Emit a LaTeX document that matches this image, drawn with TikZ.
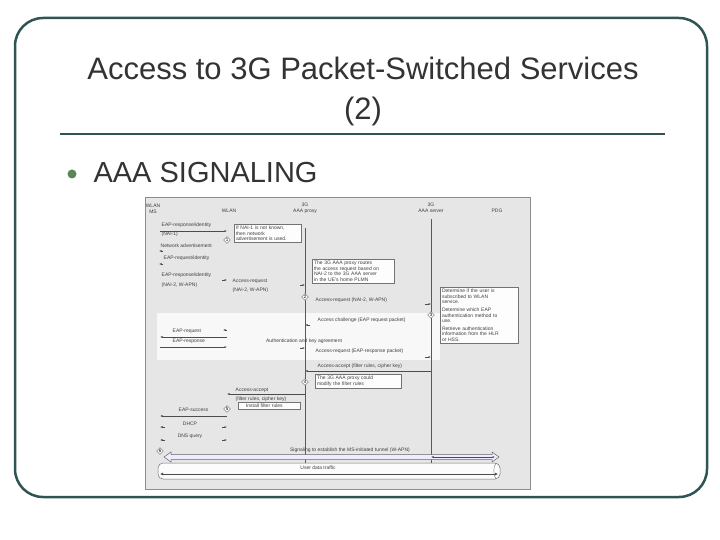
\documentclass[tikz,border=0pt]{standalone}
\usepackage{fontspec}
\setmainfont{Liberation Sans}
\usetikzlibrary{arrows.meta,shapes.geometric}
\definecolor{frame}{HTML}{2E5553}
\definecolor{ttl}{HTML}{333333}
\definecolor{bg}{HTML}{E6E6E6}
\begin{document}
\begin{tikzpicture}[x=1pt,y=-1pt,
  tiny/.style={font=\fontsize{5}{5.6}\selectfont,text=black!75,inner sep=0.5pt},
  lt/.style={tiny,anchor=west},
  msg/.style={draw=black!70,line width=0.5pt,-{Latex[length=2.5pt,width=2pt]}},
  note/.style={draw=black!55,fill=white!92!bg,line width=0.4pt,tiny,inner sep=1.8pt,align=left,anchor=north west,text width=#1},
  dia/.style={draw=black!60,fill=white,diamond,aspect=1,inner sep=0.3pt,font=\fontsize{4.5}{5}\selectfont},
  life/.style={draw=black!65,line width=0.6pt}]
\useasboundingbox (0,0) rectangle (720,540);
\fill[white] (0,0) rectangle (720,540);
\draw[frame,line width=2.5pt,rounded corners=28pt] (15,18) rectangle (707,497);
\node[font=\fontsize{31}{40}\selectfont,text=ttl,align=center] (title) at (363,91) {Access to 3G Packet-Switched Services\\(2)};
\draw[frame,line width=2.5pt] (60,134) -- (665,134);
\fill[black!40!green!30!gray] (72,174) circle (4.5);
\node[anchor=west,font=\fontsize{29}{32}\selectfont,text=ttl] (aaa) at (90,173) {AAA SIGNALING};
% image
\fill[bg] (145,197) rectangle (530,489);
\draw[black!45,line width=0.4pt] (145,197) rectangle (530,489);
\fill[white!70!bg] (157,313) rectangle (440,360);
\node[tiny,align=center] (hms) at (153,209) {WLAN\\MS};
\node[tiny] (hwl) at (229,211) {WLAN};
\node[tiny,align=center] (hpx) at (305,208) {3G\\AAA proxy};
\node[tiny,align=center] (hsv) at (431,208) {3G\\AAA server};
\node[tiny] (hpd) at (497,211) {PDG};
\coordinate (pxT) at (305,228); \coordinate (pxB) at (305,472);
\coordinate (svT) at (431,219); \coordinate (svB) at (431,472);
\draw[life] (pxT) -- (pxB);
\draw[life] (svT) -- (svB);
% notes
\node[note=63pt] (n1) at (234,224) {If NAI-1 is not known,\\then network\\advertisement is used.};
\node[note=78pt] (n2) at (312,259) {The 3G AAA proxy routes\\the access request based on\\NAI-2 to the 3G AAA server\\in the UE's home PLMN};
\node[note=74pt] (n3) at (440,287) {Determine if the user is\\subscribed to WLAN\\service.\\[2pt]Determine which EAP\\authentication method to\\use.\\[2pt]Retrieve authentication\\information from the HLR\\or HSS.};
\node[note=82pt] (n4) at (315,374) {The 3G AAA proxy could\\modify the filter rules};
\node[note=58pt] (n5) at (238,402) {\hspace{6pt}Install filter rules};
% messages
\coordinate (a1) at (160,231); \coordinate (b1) at (227,231);
\node[lt] (t1) at (161,225) {EAP-response/identity};
\node[lt] (t1b) at (161,234) {(NAI-1)};
\draw[msg] (a1) -- (b1);
\node[dia] (d1) at (227,240) {1};
\node[lt] (t2) at (160,246) {Network advertisement};
\coordinate (a2) at (163,251); \coordinate (b2) at (159,251);
\draw[msg] (a2) -- (b2);
\node[lt] (t3) at (163,258) {EAP-request/identity};
\coordinate (a3) at (163,264); \coordinate (b3) at (159,264);
\draw[msg] (a3) -- (b3);
\node[lt] (t4) at (161,275) {EAP-response/identity};
\node[lt] (t4b) at (161,285) {(NAI-2, W-APN)};
\coordinate (a4) at (222,280); \coordinate (b4) at (227,280);
\draw[msg] (a4) -- (b4);
\node[lt] (t5) at (232,281) {Access-request};
\node[lt] (t5b) at (232,290) {(NAI-2, W-APN)};
\coordinate (a5) at (300,285); \coordinate (b5) at (305,285);
\draw[msg] (a5) -- (b5);
\node[dia] (d2) at (305,297) {2};
\node[lt] (t6) at (315,300) {Access-request (NAI-2, W-APN)};
\coordinate (a6) at (425,304); \coordinate (b6) at (431,304);
\draw[msg] (a6) -- (b6);
\node[dia] (d3) at (431,315) {3};
\node[lt] (t7) at (317,320) {Access challenge (EAP request packet)};
\coordinate (a7) at (310,325); \coordinate (b7) at (305,325);
\draw[msg] (a7) -- (b7);
\node[lt] (t8) at (172,331) {EAP-request};
\coordinate (a8a) at (227,330); \coordinate (b8a) at (223,330);
\draw[msg] (a8a) -- (b8a);
\coordinate (a8) at (227,337); \coordinate (b8) at (160,337);
\draw[msg] (a8) -- (b8);
\node[lt] (t9) at (172,341) {EAP-response};
\coordinate (a9) at (160,347); \coordinate (b9) at (227,347);
\draw[msg] (a9) -- (b9);
\coordinate (a9b) at (300,348); \coordinate (b9b) at (305,348);
\draw[msg] (a9b) -- (b9b);
\node[tiny] (akg) at (304,341) {Authentication and key agreement};
\node[lt] (t10) at (315,351) {Access-request (EAP-response packet)};
\coordinate (a10) at (425,357); \coordinate (b10) at (431,357);
\draw[msg] (a10) -- (b10);
\node[lt] (t11) at (317,366) {Access-accept (filter rules, cipher key)};
\coordinate (a11) at (431,371); \coordinate (b11) at (305,371);
\draw[msg] (a11) -- (b11);
\node[dia] (d4) at (305,382) {4};
\node[lt] (t12) at (235,390) {Access-accept};
\node[lt] (t12b) at (235,399) {(filter rules, cipher key)};
\coordinate (a12) at (305,394); \coordinate (b12) at (227,394);
\draw[msg] (a12) -- (b12);
\node[dia] (d5) at (227,409) {5};
\node[lt] (t13) at (178,410) {EAP-success};
\coordinate (a13) at (227,416); \coordinate (b13) at (160,416);
\draw[msg] (a13) -- (b13);
\node[tiny] (t14) at (190,424) {DHCP};
\coordinate (a14) at (165,427); \coordinate (b14) at (160,427);
\coordinate (c14) at (222,427); \coordinate (e14) at (227,427);
\draw[msg] (a14) -- (b14); \draw[msg] (c14) -- (e14);
\node[tiny] (t15) at (190,436) {DNS query};
\coordinate (a15) at (165,440); \coordinate (b15) at (160,440);
\coordinate (c15) at (222,440); \coordinate (e15) at (227,440);
\draw[msg] (a15) -- (b15); \draw[msg] (c15) -- (e15);
\node[dia] (d6) at (160,451) {6};
\node[tiny] (t16) at (350,450) {Signaling to establish the MS-initiated tunnel (W-APN)};
\coordinate (a16) at (164,457); \coordinate (b16) at (499,457);
\draw[draw=black!60,fill=blue!7!white,line width=0.5pt] (164,457) -- (171,452) -- (171,454.5) -- (492,454.5) -- (492,452) -- (499,457) -- (492,462) -- (492,459.5) -- (171,459.5) -- (171,462) -- cycle;
\coordinate (a17) at (431,457); \coordinate (b17) at (495,457);
\draw[msg,{Latex[length=2.5pt,width=2pt]}-{Latex[length=2.5pt,width=2pt]}] (a17) -- (b17);
% pipe
\draw[black!55,fill=white!90!bg,line width=0.5pt,rounded corners=5pt] (158,463) rectangle (500,479);
\draw[black!55,line width=0.4pt] (496,463) .. controls (493,467) and (493,475) .. (496,479);
\node[tiny] (t18) at (318,468) {User data traffic};
\coordinate (a18) at (160,474); \coordinate (b18) at (498,474);
\draw[msg,line width=0.9pt,{Latex[length=3pt,width=3pt]}-{Latex[length=3pt,width=3pt]}] (a18) -- (b18);
\end{tikzpicture}
\end{document}
